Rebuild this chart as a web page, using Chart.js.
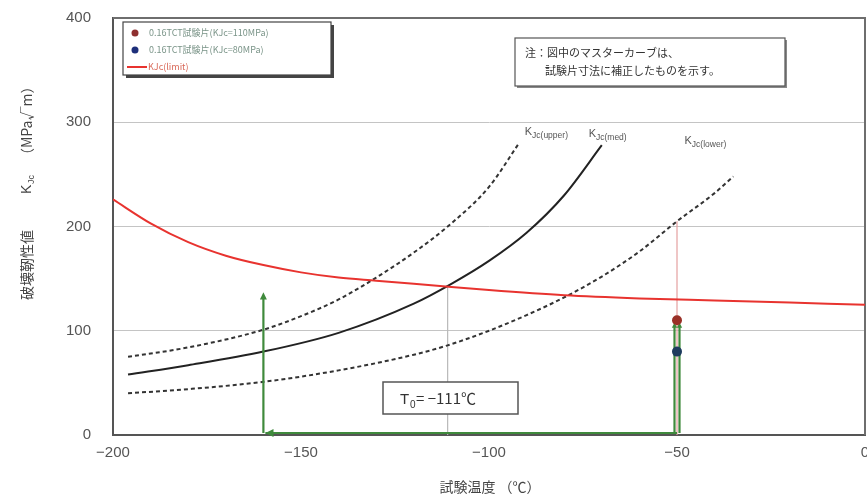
<!DOCTYPE html>
<html lang="ja">
<head>
<meta charset="utf-8">
<title>破壊靭性値と試験温度</title>
<script src="https://cdn.jsdelivr.net/npm/chart.js@4.4.1/dist/chart.umd.min.js"></script>
<style>
  html, body { margin: 0; padding: 0; background: #ffffff; }
  #wrap { position: relative; width: 867px; height: 500px; }
</style>
</head>
<body>
<div id="wrap"><canvas id="chart" width="867" height="500"></canvas></div>
<script>
// Master curves (size corrected), temperature in °C, K_Jc in MPa√m
const tempUpper = [-196, -180, -160, -150, -140, -130, -120, -110, -100, -92];
const kjcUpper  = [75, 84, 101, 114, 130, 151, 175, 203, 238, 280];

const tempMed = [-196, -180, -160, -140, -120, -110, -100, -90, -80, -70];
const kjcMed  = [58, 67, 80, 98, 126, 145, 167, 194, 230, 278];

const tempLower = [-196, -180, -160, -140, -120, -111, -100, -90, -80, -70, -60, -50, -40, -35];
const kjcLower  = [40, 44, 51, 62, 77, 86, 100, 115, 132, 152, 176, 205, 232, 248];

// Limit curve
const tempLimit = [-200, -190, -180, -170, -160, -150, -140, -130, -120, -110, -100, -80, -60, -40, -20, 0];
const kjcLimit  = [226, 203, 185, 172, 163, 156, 151, 148, 145, 142, 139, 134, 131, 129, 127, 125];

// Specimen results at the test temperature
const specimenTemp = -50;
const specimenKjc  = [110, 80];
const specimenLabels = ['0.16TCT試験片(KJc=110MPa)', '0.16TCT試験片(KJc=80MPa)'];
const limitLabel = 'KJc(limit)';

// Reference temperature T0 and guide lines
const refTemp = -111;
const refTempKjc = 142;
const testTempGuideKjc = 205;
const guideArrowTemp = -160;
const guideArrowKjc = 137;
const specimenArrowKjc = 108;

const xTicks = [-200, -150, -100, -50, 0];
const yTicks = [0, 100, 200, 300, 400];

// curve name anchors (temperature, K_Jc)
const curveLabels = [
  { x: -90.5, y: 292, main: 'K', sub: 'Jc(upper)' },
  { x: -73.5, y: 290, main: 'K', sub: 'Jc(med)' },
  { x: -48, y: 283, main: 'K', sub: 'Jc(lower)' }
];

const pts = (xs, ys) => xs.map((x, i) => ({ x: x, y: ys[i] }));
const JP = '"Noto Sans CJK JP", "Noto Sans", sans-serif';
const LAT = '"Liberation Sans", Arial, sans-serif';
const GREEN = '#3f8a3c';

function arrowHead(ctx, x0, y0, x1, y1, size) {
  const a = Math.atan2(y1 - y0, x1 - x0);
  ctx.beginPath();
  ctx.moveTo(x1, y1);
  ctx.lineTo(x1 - size * Math.cos(a - 0.45), y1 - size * Math.sin(a - 0.45));
  ctx.lineTo(x1 - size * Math.cos(a + 0.45), y1 - size * Math.sin(a + 0.45));
  ctx.closePath();
  ctx.fill();
}

const decorations = {
  id: 'decorations',
  beforeDatasetsDraw(chart) {
    const { ctx, scales: { x, y }, chartArea: a } = chart;
    ctx.save();
    // frame top/right
    ctx.strokeStyle = '#6e6e6e';
    ctx.lineWidth = 2;
    ctx.beginPath();
    ctx.moveTo(a.left, a.top);
    ctx.lineTo(a.right, a.top);
    ctx.lineTo(a.right, a.bottom);
    ctx.stroke();
    // guide at T0
    ctx.strokeStyle = '#b9b9b9';
    ctx.lineWidth = 1.2;
    ctx.beginPath();
    ctx.moveTo(x.getPixelForValue(refTemp), y.getPixelForValue(0));
    ctx.lineTo(x.getPixelForValue(refTemp), y.getPixelForValue(refTempKjc));
    ctx.stroke();
    // guide at test temperature
    ctx.strokeStyle = '#e4a0a0';
    ctx.beginPath();
    ctx.moveTo(x.getPixelForValue(specimenTemp), y.getPixelForValue(0));
    ctx.lineTo(x.getPixelForValue(specimenTemp), y.getPixelForValue(testTempGuideKjc));
    ctx.stroke();
    ctx.restore();
  },
  afterDatasetsDraw(chart) {
    const { ctx, scales: { x, y } } = chart;
    ctx.save();
    ctx.strokeStyle = GREEN;
    ctx.fillStyle = GREEN;
    ctx.lineWidth = 2.2;
    const y0 = y.getPixelForValue(0) - 2;
    // horizontal arrow along the axis toward the lower temperature
    const xs = x.getPixelForValue(specimenTemp);
    const xg = x.getPixelForValue(guideArrowTemp);
    ctx.beginPath(); ctx.moveTo(xs, y0); ctx.lineTo(xg + 2, y0); ctx.stroke();
    arrowHead(ctx, xs, y0, xg + 2, y0, 9);
    // vertical arrow at the lower temperature
    const yTop = y.getPixelForValue(guideArrowKjc);
    ctx.beginPath(); ctx.moveTo(xg, y0); ctx.lineTo(xg, yTop + 4); ctx.stroke();
    arrowHead(ctx, xg, y0, xg, yTop, 8);
    // vertical arrows at the test temperature
    const ySp = y.getPixelForValue(specimenArrowKjc);
    [-2.5, 2.5].forEach(d => {
      ctx.beginPath(); ctx.moveTo(xs + d, y0); ctx.lineTo(xs + d, ySp + 4); ctx.stroke();
      arrowHead(ctx, xs + d, y0, xs + d, ySp, 6);
    });
    ctx.restore();

    // specimen markers on top
    ctx.save();
    const colors = ['#9a3027', '#1e3c5e'];
    specimenKjc.forEach((v, i) => {
      ctx.fillStyle = colors[i];
      ctx.beginPath();
      ctx.arc(x.getPixelForValue(specimenTemp), y.getPixelForValue(v), 5, 0, Math.PI * 2);
      ctx.fill();
    });
    ctx.restore();

    // curve labels
    ctx.save();
    ctx.fillStyle = '#555';
    ctx.textBaseline = 'alphabetic';
    curveLabels.forEach(l => {
      const px = x.getPixelForValue(l.x);
      const py = y.getPixelForValue(l.y) + 4;
      ctx.font = '11px ' + LAT;
      ctx.fillText(l.main, px, py);
      const w = ctx.measureText(l.main).width;
      ctx.font = '8.5px ' + LAT;
      ctx.fillText(l.sub, px + w, py + 3);
    });
    ctx.restore();

    // T0 box
    ctx.save();
    const bx = 383, by = 382, bw = 135, bh = 32;
    ctx.fillStyle = '#fff';
    ctx.fillRect(bx, by, bw, bh);
    ctx.strokeStyle = '#555';
    ctx.lineWidth = 1.5;
    ctx.strokeRect(bx, by, bw, bh);
    ctx.fillStyle = '#333';
    ctx.textBaseline = 'alphabetic';
    ctx.font = '15px ' + LAT;
    ctx.fillText('T', bx + 17, by + 22);
    ctx.font = '10px ' + LAT;
    ctx.fillText('0', bx + 27, by + 26);
    ctx.font = '15px ' + JP;
    ctx.fillText('= −111℃', bx + 33, by + 22);
    ctx.restore();

    // legend box
    ctx.save();
    const lx = 123, ly = 22, lw = 208, lh = 53;
    ctx.fillStyle = '#444';
    ctx.fillRect(lx + 3, ly + 3, lw, lh);
    ctx.fillStyle = '#fff';
    ctx.fillRect(lx, ly, lw, lh);
    ctx.strokeStyle = '#444';
    ctx.lineWidth = 1.2;
    ctx.strokeRect(lx, ly, lw, lh);
    ctx.font = '9px ' + JP;
    ctx.textBaseline = 'middle';
    const mColors = ['#8e2f2f', '#1d2f7a'];
    specimenLabels.forEach((t, i) => {
      const ry = ly + 11 + i * 17;
      ctx.fillStyle = mColors[i];
      ctx.beginPath(); ctx.arc(lx + 12, ry, 3.5, 0, Math.PI * 2); ctx.fill();
      ctx.fillStyle = '#7a9488';
      ctx.fillText(t, lx + 26, ry);
    });
    const ry3 = ly + 45;
    ctx.strokeStyle = '#e8332f';
    ctx.lineWidth = 2;
    ctx.beginPath(); ctx.moveTo(lx + 4, ry3); ctx.lineTo(lx + 24, ry3); ctx.stroke();
    ctx.fillStyle = '#d96a5a';
    ctx.fillText(limitLabel, lx + 25, ry3);
    ctx.restore();

    // note box
    ctx.save();
    const nx = 515, ny = 38, nw = 270, nh = 48;
    ctx.fillStyle = '#888';
    ctx.fillRect(nx + 2, ny + 2, nw, nh);
    ctx.fillStyle = '#fff';
    ctx.fillRect(nx, ny, nw, nh);
    ctx.strokeStyle = '#555';
    ctx.lineWidth = 1.2;
    ctx.strokeRect(nx, ny, nw, nh);
    ctx.fillStyle = '#333';
    ctx.font = '11px ' + JP;
    ctx.textBaseline = 'middle';
    ctx.fillText('注：図中のマスターカーブは、', nx + 10, ny + 15);
    ctx.fillText('試験片寸法に補正したものを示す。', nx + 30, ny + 33);
    ctx.restore();

    // axis titles
    ctx.save();
    ctx.fillStyle = '#444';
    ctx.textBaseline = 'middle';
    ctx.font = '14px ' + JP;
    ctx.textAlign = 'center';
    ctx.fillText('試験温度 （℃）', 490, 487);
    ctx.translate(27, 300);
    ctx.rotate(-Math.PI / 2);
    ctx.textAlign = 'left';
    ctx.fillText('破壊靭性値', 0, 0);
    ctx.font = '14px ' + LAT;
    ctx.fillText('K', 106, 0);
    ctx.font = '9px ' + LAT;
    ctx.fillText('Jc', 116, 5);
    ctx.font = '14px ' + JP;
    ctx.fillText('（MPa√m）', 138, 0);
    ctx.restore();
  }
};

new Chart(document.getElementById('chart'), {
  type: 'scatter',
  data: {
    datasets: [
      { data: pts(tempLimit, kjcLimit), showLine: true, borderColor: '#e8332f', borderWidth: 2, pointRadius: 0, cubicInterpolationMode: 'monotone' },
      { data: pts(tempUpper, kjcUpper), showLine: true, borderColor: '#333', borderWidth: 2, borderDash: [4, 3], pointRadius: 0, cubicInterpolationMode: 'monotone' },
      { data: pts(tempMed, kjcMed), showLine: true, borderColor: '#222', borderWidth: 2, pointRadius: 0, cubicInterpolationMode: 'monotone' },
      { data: pts(tempLower, kjcLower), showLine: true, borderColor: '#333', borderWidth: 2, borderDash: [4, 3], pointRadius: 0, cubicInterpolationMode: 'monotone' }
    ]
  },
  options: {
    responsive: false,
    animation: false,
    layout: { padding: { left: 0, right: 2, top: 18, bottom: 0 } },
    plugins: { legend: { display: false }, tooltip: { enabled: false } },
    scales: {
      x: {
        type: 'linear', min: -200, max: 0,
        afterBuildTicks: s => { s.ticks = xTicks.map(v => ({ value: v })); },
        afterFit: s => { s.height = 65; s.paddingLeft = 0; s.paddingRight = 0; },
        grid: { display: false, drawTicks: false },
        border: { display: true, color: '#555', width: 2 },
        ticks: {
          padding: 9, color: '#555', font: { size: 15, family: LAT },
          callback: v => (v < 0 ? '−' + Math.abs(v) : String(v))
        }
      },
      y: {
        type: 'linear', min: 0, max: 400,
        afterBuildTicks: s => { s.ticks = yTicks.map(v => ({ value: v })); },
        afterFit: s => { s.width = 113; s.paddingTop = 0; s.paddingBottom = 0; },
        grid: { color: '#c4c4c4', lineWidth: 1, drawTicks: false },
        border: { display: true, color: '#555', width: 2 },
        ticks: { padding: 22, color: '#555', font: { size: 15, family: LAT } }
      }
    }
  },
  plugins: [decorations]
});
</script>
</body>
</html>
